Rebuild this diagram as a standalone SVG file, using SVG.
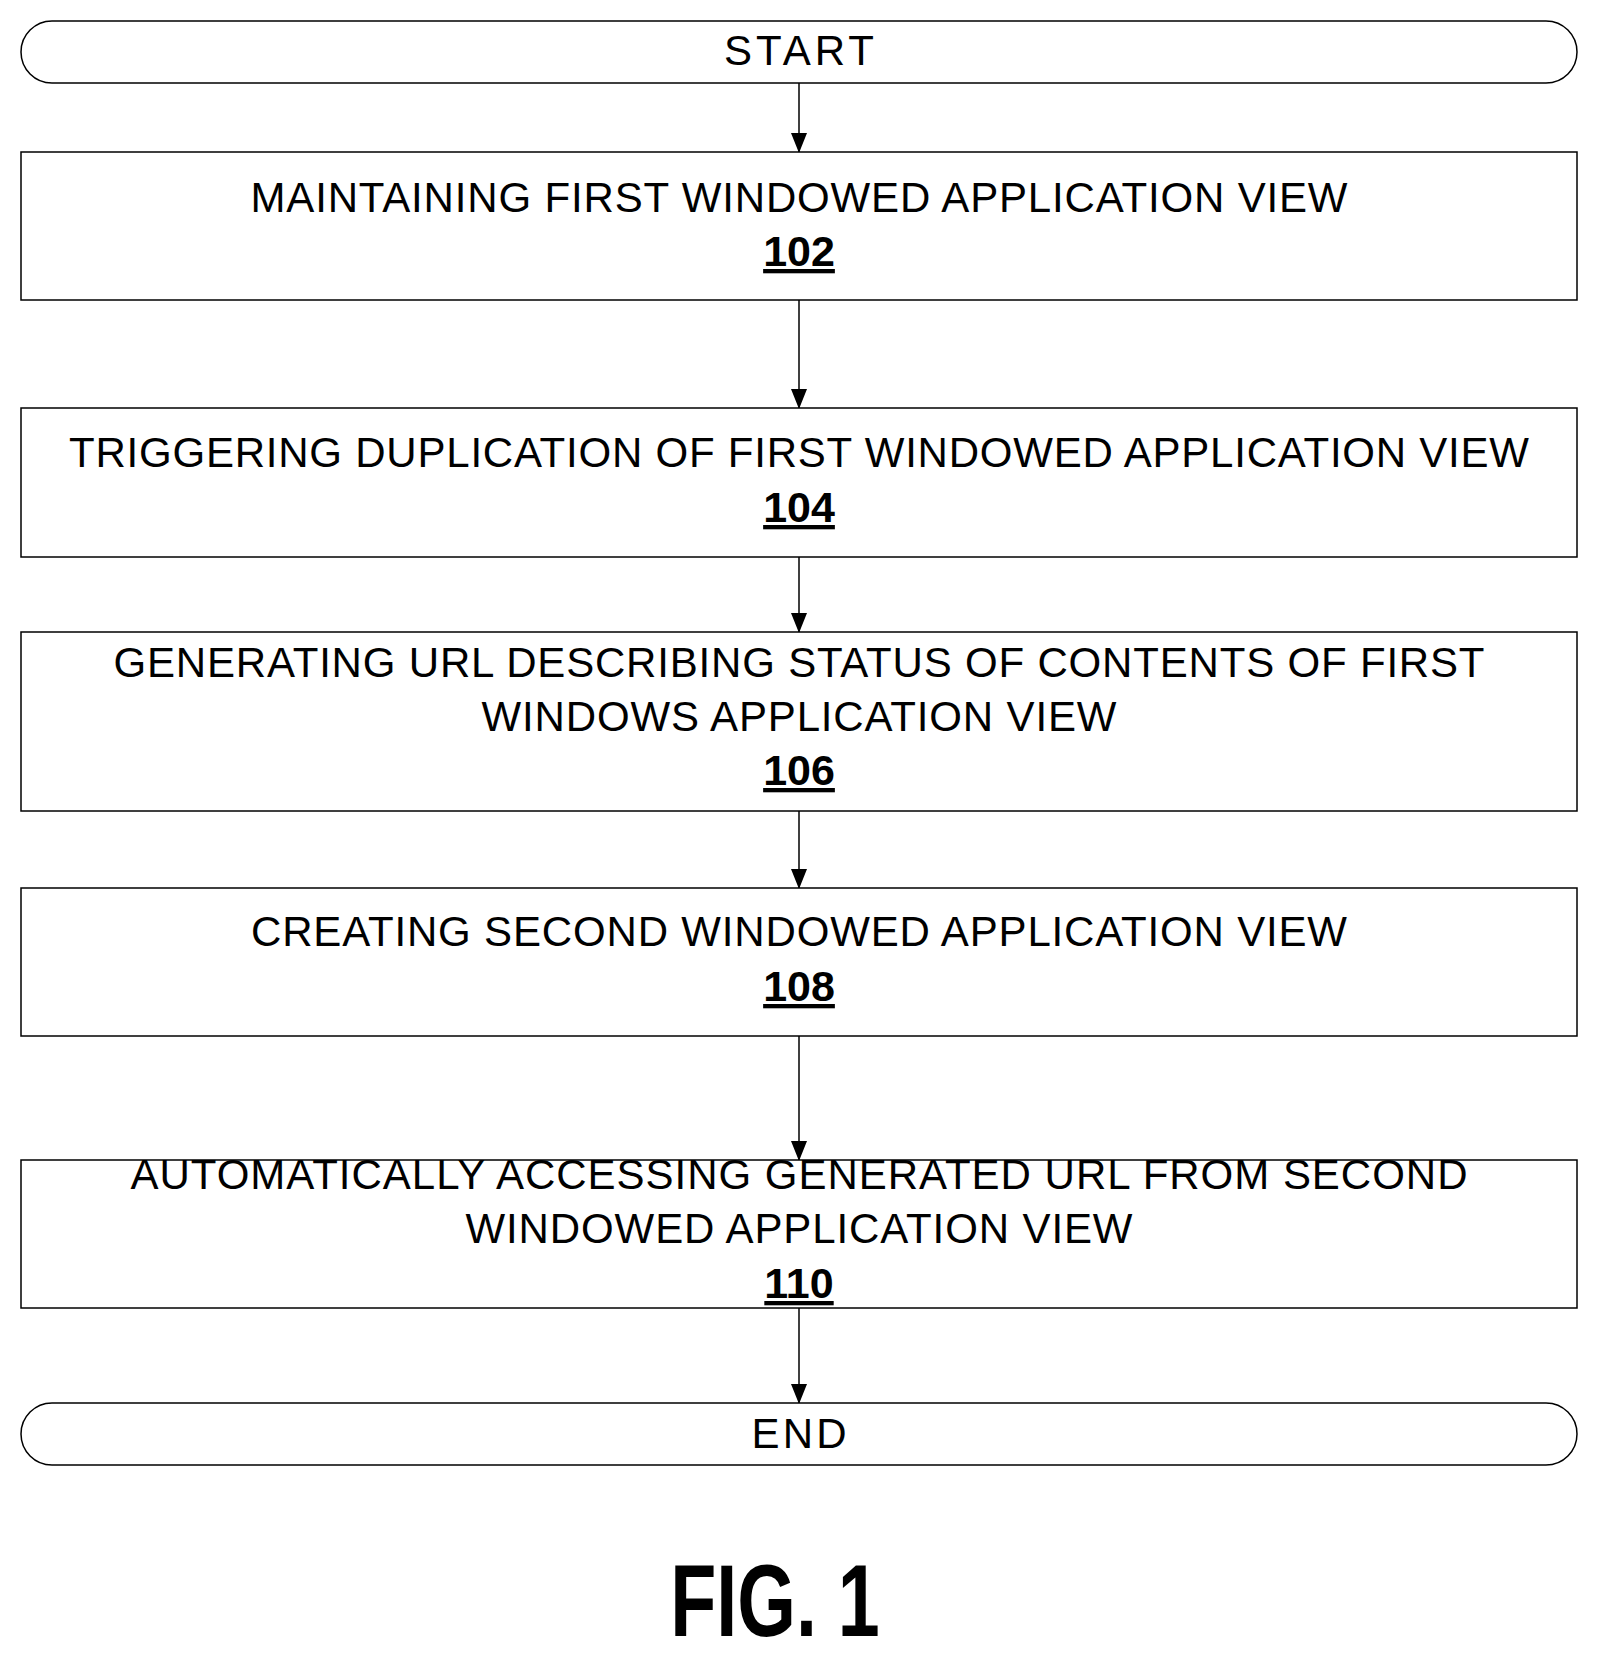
<svg xmlns="http://www.w3.org/2000/svg" width="1598" height="1659" viewBox="0 0 1598 1659">
<style>
.b{fill:#fff;stroke:#000;stroke-width:1.5}
.t{font-family:"Liberation Sans",Arial,sans-serif;font-size:42px;text-anchor:middle;fill:#000}
.n{font-family:"Liberation Sans",Arial,sans-serif;font-size:43px;font-weight:bold;text-anchor:middle;text-decoration:underline;fill:#000}
.c{stroke:#000;stroke-width:1.5;fill:none;marker-end:url(#a)}
</style>
<defs><marker id="a" markerWidth="20" markerHeight="16" refX="19" refY="8" orient="auto" markerUnits="userSpaceOnUse"><path d="M0,0 L20,8 L0,16 Z" fill="#000"/></marker></defs>
<rect width="1598" height="1659" fill="#fff"/>
<g id="connectors">
<line class="c" x1="799" y1="83" x2="799" y2="152"/>
<line class="c" x1="799" y1="300" x2="799" y2="408"/>
<line class="c" x1="799" y1="557" x2="799" y2="632"/>
<line class="c" x1="799" y1="811" x2="799" y2="888"/>
<line class="c" x1="799" y1="1036" x2="799" y2="1160"/>
<line class="c" x1="799" y1="1308" x2="799" y2="1403"/>
</g>
<g id="start"><rect class="b" x="21" y="21" width="1556" height="62" rx="31"/><text class="t" x="799" y="65" textLength="150">START</text></g>
<g id="n102"><rect class="b" x="21" y="152" width="1556" height="148"/><text class="t" x="799" y="212" textLength="1097">MAINTAINING FIRST WINDOWED APPLICATION VIEW</text><text class="n" x="799" y="266">102</text></g>
<g id="n104"><rect class="b" x="21" y="408" width="1556" height="149"/><text class="t" x="799" y="467" textLength="1460">TRIGGERING DUPLICATION OF FIRST WINDOWED APPLICATION VIEW</text><text class="n" x="799" y="522">104</text></g>
<g id="n106"><rect class="b" x="21" y="632" width="1556" height="179"/><text class="t" x="799" y="677" textLength="1371">GENERATING URL DESCRIBING STATUS OF CONTENTS OF FIRST</text><text class="t" x="799" y="731" textLength="635">WINDOWS APPLICATION VIEW</text><text class="n" x="799" y="785">106</text></g>
<g id="n108"><rect class="b" x="21" y="888" width="1556" height="148"/><text class="t" x="799" y="946" textLength="1096">CREATING SECOND WINDOWED APPLICATION VIEW</text><text class="n" x="799" y="1001">108</text></g>
<g id="n110"><rect class="b" x="21" y="1160" width="1556" height="148"/><text class="t" x="799" y="1189" textLength="1337">AUTOMATICALLY ACCESSING GENERATED URL FROM SECOND</text><text class="t" x="799" y="1243" textLength="667">WINDOWED APPLICATION VIEW</text><text class="n" x="799" y="1298">110</text></g>
<g id="end"><rect class="b" x="21" y="1403" width="1556" height="62" rx="31"/><text class="t" x="799" y="1448" textLength="95">END</text></g>
<text transform="translate(775 1636) scale(0.74 1)" x="0" y="0" font-family="Liberation Sans,Arial,sans-serif" font-size="102" font-weight="bold" text-anchor="middle">FIG. 1</text>
</svg>
